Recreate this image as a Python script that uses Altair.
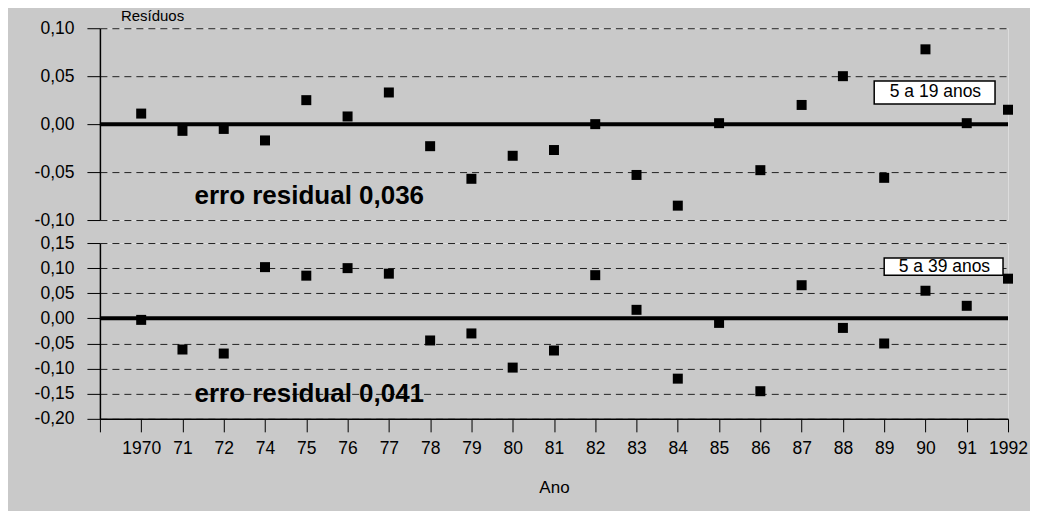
import altair as alt
import pandas as pd

# ---- data ----
anos = ["1970", "71", "72", "74", "75", "76", "77", "78", "79", "80", "81",
        "82", "83", "84", "85", "86", "87", "88", "89", "90", "91", "1992"]
res_5_19 = [0.011, -0.007, -0.005, -0.017, 0.025, 0.008, 0.033, -0.023, -0.057,
            -0.033, -0.027, 0.000, -0.053, -0.085, 0.001, -0.048, 0.020, 0.050,
            -0.056, 0.078, 0.001, 0.015]
res_5_39 = [-0.003, -0.062, -0.070, 0.102, 0.085, 0.100, 0.089, -0.044, -0.030,
            -0.098, -0.064, 0.086, 0.017, -0.120, -0.009, -0.145, 0.066, -0.019,
            -0.050, 0.055, 0.025, 0.079]
ticks_top = [-0.10, -0.05, 0.00, 0.05, 0.10]
ticks_bottom = [-0.20, -0.15, -0.10, -0.05, 0.00, 0.05, 0.10, 0.15]
label_top = "5 a 19 anos"
label_bottom = "5 a 39 anos"
erro_top = "erro residual 0,036"
erro_bottom = "erro residual 0,041"

FONT = "Liberation Sans"
x_domain = [" "] + anos
xscale = alt.Scale(type="point", domain=x_domain, padding=0)
lab_expr = "replace(replace(format(datum.value, '.2f'), '.', ','), '\u2212', '-')"


def yaxis(vals):
    return alt.Axis(values=vals, labelExpr=lab_expr, title=None, grid=True,
                    gridDash=[7, 5], gridColor="#222222", gridWidth=1,
                    domainColor="black", domainWidth=1.5, tickColor="black",
                    tickSize=13, labelPadding=13, labelFontSize=17.5,
                    labelColor="black", labelFont=FONT,
                    minExtent=91, maxExtent=91)


xaxis_bottom = alt.Axis(title="Ano", labelAngle=0, grid=False, domainColor="black",
                        domainWidth=1.5, tickColor="black", tickSize=13,
                        labelPadding=8, labelFontSize=17.5, labelColor="black",
                        labelFont=FONT, titleFont=FONT, titleFontSize=17,
                        titleFontWeight="normal", titleColor="black",
                        titlePadding=22)


def panel(values, dom, ticks, height, xaxis, box_lab, box_v, box_v2, box_off,
          box_dx, erro, erro_v, title=None):
    df = pd.DataFrame({"ano": anos, "v": values})
    ysc = alt.Scale(domain=dom, nice=False, zero=False)
    yenc = alt.Y("v:Q", scale=ysc, axis=yaxis(ticks))
    xenc = alt.X("ano:O", scale=xscale, axis=xaxis, sort=x_domain)

    zero = alt.Chart(pd.DataFrame({"v": [0.0]})).mark_rule(
        color="black", strokeWidth=4).encode(y=yenc)
    pts = alt.Chart(df).mark_square(size=100, color="black", opacity=1).encode(
        x=xenc, y=yenc)
    box_df = pd.DataFrame({"ano": ["89"], "ano2": ["1992"], "v": [box_v],
                           "v2": [box_v2], "txt": [box_lab]})
    box = alt.Chart(box_df).mark_rect(
        fill="white", stroke="black", strokeWidth=1.5,
        xOffset=box_off[0], x2Offset=box_off[1]).encode(
        x=xenc, x2="ano2", y=yenc, y2="v2")
    box_txt_df = pd.DataFrame({"ano": ["90"], "v": [(box_v + box_v2) / 2],
                               "txt": [box_lab]})
    box_txt = alt.Chart(box_txt_df).mark_text(
        font=FONT, fontSize=17.5, color="black", dx=box_dx, baseline="middle").encode(
        x=xenc, y=yenc, text="txt:N")
    erro_df = pd.DataFrame({"ano": ["75"], "v": [erro_v], "txt": [erro]})
    erro_txt = alt.Chart(erro_df).mark_text(
        font=FONT, fontSize=26, fontWeight="bold", color="black", dx=3,
        baseline="middle").encode(x=xenc, y=yenc, text="txt:N")

    ch = alt.layer(zero, pts, box, box_txt, erro_txt).properties(
        width=909, height=height)
    if title is not None:
        ch = ch.properties(title=title)
    return ch


top = panel(res_5_19, [-0.10, 0.10], ticks_top, 192, None, label_top,
            0.045, 0.021, (-10, -13), 10, erro_top, -0.075,
            title=alt.TitleParams("Resíduos", anchor="start", frame="group",
                                  dx=21, fontSize=15, fontWeight="normal",
                                  font=FONT, color="black", offset=-5))
bottom = panel(res_5_39, [-0.20, 0.15], ticks_bottom, 176, xaxis_bottom,
               label_bottom, 0.120, 0.086, (0, -5), 19, erro_bottom, -0.150)

chart = alt.vconcat(top, bottom, spacing=23, bounds="flush").properties(
    background="#c9c9c9",
    padding={"left": 0, "top": 0, "right": 2, "bottom": 15},
).configure_view(stroke=None, fill="white").configure(font=FONT)

chart.save("out.html", embed_options={"renderer": "svg", "actions": False})
